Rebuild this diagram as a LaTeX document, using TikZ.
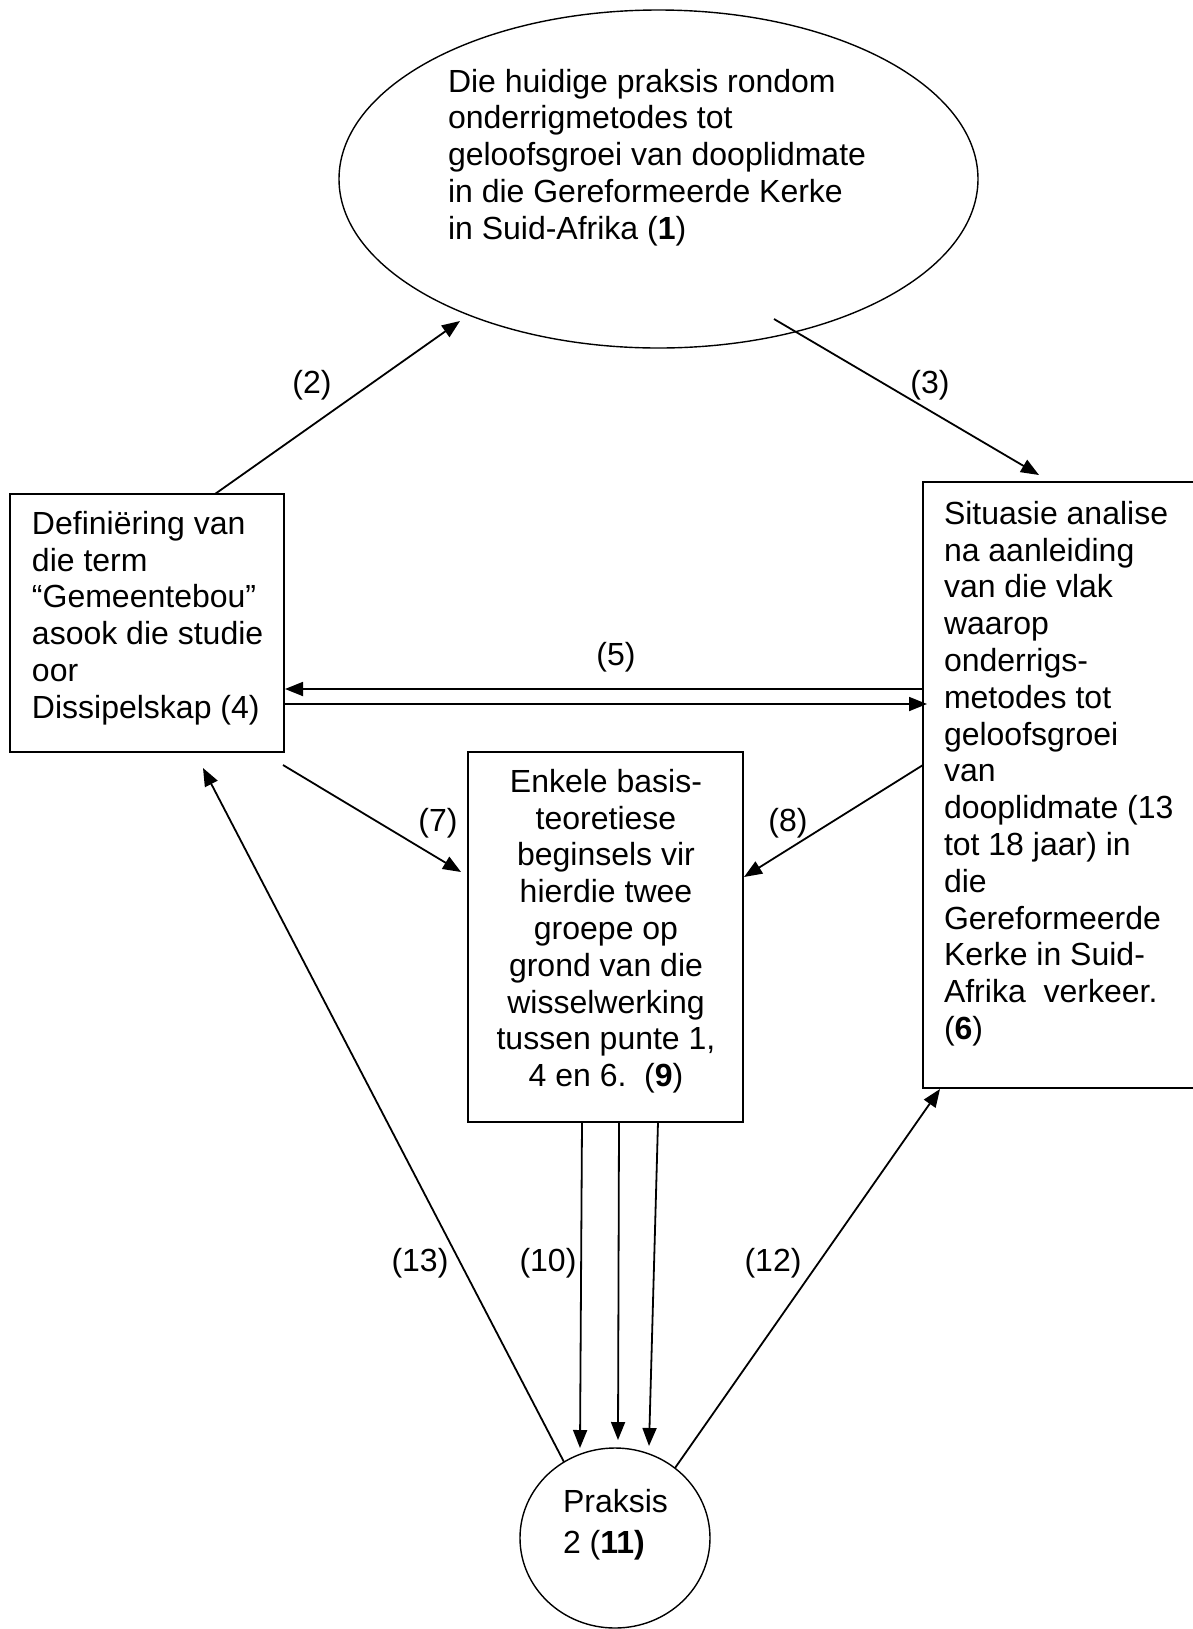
\documentclass[tikz,border=0pt]{standalone}
\usepackage{fontspec}
\setmainfont{Liberation Sans}
\usetikzlibrary{shapes.geometric,arrows.meta,calc}
\begin{document}
\begin{tikzpicture}[x=0.5pt,y=-0.5pt,
  every node/.style={inner sep=0pt,outer sep=0pt},
  txt/.style={font=\fontsize{16}{18.4}\selectfont,align=left},
  lbl/.style={font=\fontsize{16}{18.4}\selectfont},
  boxnode/.style={draw,line width=0.8pt,rectangle},
  ellnode/.style={draw,line width=0.7pt,ellipse},
  arr/.style={line width=0.9pt,-{Triangle[length=9pt,width=7pt]}}]
\useasboundingbox (0,0) rectangle (1193,1629);

% shapes
\node[ellnode,minimum width=319.5pt,minimum height=169pt] (e1) at (658.5,179) {};
\node[boxnode,minimum width=137pt,minimum height=129pt] (b4) at (147,623) {};
\node[boxnode,minimum width=137.5pt,minimum height=303pt] (b6) at (1060.5,785) {};
\node[boxnode,minimum width=137.5pt,minimum height=185pt] (b9) at (605.5,937) {};
\node[ellnode,minimum width=95pt,minimum height=90pt] (e11) at (615,1538) {};

% texts
\node[txt,anchor=north west] (t1) at (448,69) {Die huidige praksis rondom\\onderrigmetodes tot\\geloofsgroei van dooplidmate\\in die Gereformeerde Kerke\\in Suid-Afrika (\textbf{1})};
\node[txt,anchor=north west] (t4) at (32,511) {Definiëring van\\die term\\“Gemeentebou”\\asook die studie\\oor\\Dissipelskap (4)};
\node[txt,anchor=north west] (t6) at (944,501) {Situasie analise\\na aanleiding\\van die vlak\\waarop\\onderrigs-\\metodes tot\\geloofsgroei\\van\\dooplidmate (13\\tot 18 jaar) in\\die\\Gereformeerde\\Kerke in Suid-\\Afrika\ \ verkeer.\\(\textbf{6})};
\node[txt,align=center,anchor=north] (t9) at (606,769) {Enkele basis-\\teoretiese\\beginsels vir\\hierdie twee\\groepe op\\grond van die\\wisselwerking\\tussen punte 1,\\4 en 6.\ \ (\textbf{9})};
\node[font=\fontsize{16}{20.5}\selectfont,align=left,anchor=north west] (t11) at (563,1489) {Praksis\\2 (\textbf{11)}};

% connectors
\draw[arr] ($(b4.north west)+(205,0)$) -- ($(e1.center)+(-198.5,142)$);
\draw[arr] ($(e1.center)+(115.5,140)$) -- ($(b6.north west)+(116,-7)$);
\draw[arr] ($(b6.north west)+(0,207)$) -- ($(b4.north east)+(1,195)$);
\draw[arr] ($(b4.north east)+(0,210)$) -- ($(b6.north west)+(4,222)$);
\draw[arr] ($(b4.south east)+(-1,13)$) -- ($(b9.north west)+(-7,120)$);
\draw[arr] ($(b6.north west)+(0,283)$) -- ($(b9.north east)+(1,125)$);
\draw[arr] ($(b9.south west)+(114,0)$) -- ($(e11.center)+(-35,-90)$);
\draw[arr] ($(b9.south west)+(151,0)$) -- ($(e11.center)+(3,-98)$);
\draw[arr] ($(b9.south west)+(190,0)$) -- ($(e11.center)+(34,-92)$);
\draw[arr] ($(e11.center)+(60,-70)$) -- ($(b6.south west)+(17,1)$);
\draw[arr] ($(e11.center)+(-51,-76)$) -- ($(b4.south west)+(193,16)$);

% labels
\node[lbl] (l2) at (312,385) {(2)};
\node[lbl] (l3) at (930,385) {(3)};
\node[lbl] (l5) at (616,657) {(5)};
\node[lbl] (l7) at (438,823) {(7)};
\node[lbl] (l8) at (788,823) {(8)};
\node[lbl] (l13) at (420,1263) {(13)};
\node[lbl] (l10) at (548,1263) {(10)};
\node[lbl] (l12) at (773,1263) {(12)};
\end{tikzpicture}
\end{document}
